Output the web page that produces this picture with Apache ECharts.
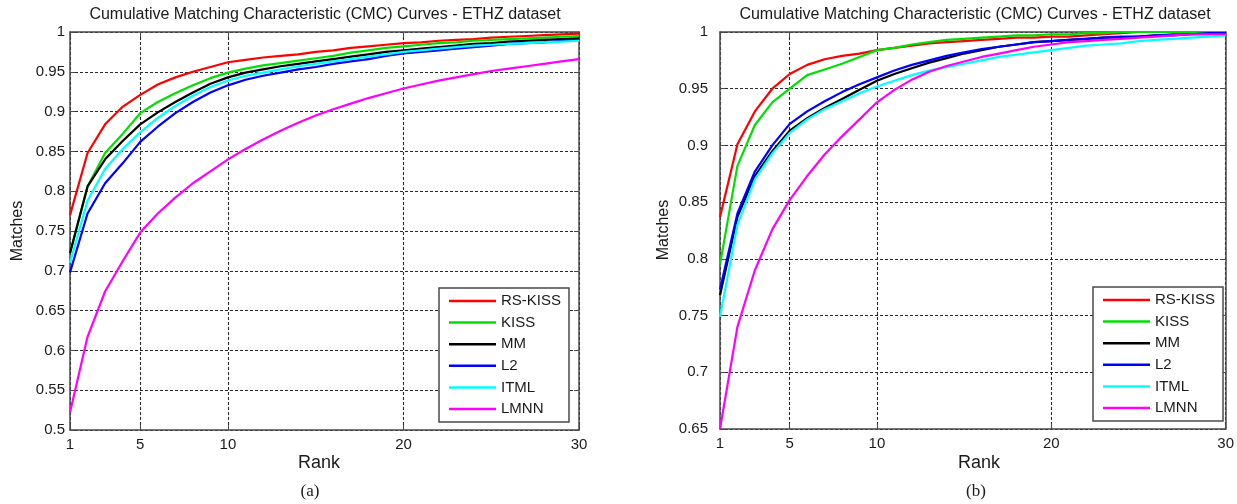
<!DOCTYPE html>
<html>
<head>
<meta charset="utf-8">
<script src="https://cdn.jsdelivr.net/npm/echarts@6/dist/echarts.min.js"></script>
<style>
  html, body { margin: 0; padding: 0; background: #fff; }
  #chart { width: 1237px; height: 504px; }
</style>
</head>
<body>
<div id="chart"></div>
<script>
// CMC curves on the ETHZ dataset, two experiment settings side by side.
const ranks = [1,2,3,4,5,6,7,8,9,10,11,12,13,14,15,16,17,18,19,20,21,22,23,24,25,26,27,28,29,30];
const methods = ['RS-KISS', 'KISS', 'MM', 'L2', 'ITML', 'LMNN'];
const xTicks = [1, 5, 10, 20, 30];

// Panel (a)
const aRsKiss = [0.770,0.848,0.884,0.906,0.921,0.934,0.943,0.950,0.956,0.962,0.965,0.968,0.970,0.972,0.975,0.977,0.980,0.982,0.984,0.986,0.987,0.989,0.990,0.991,0.993,0.994,0.995,0.996,0.997,0.998];
const aKiss   = [0.722,0.806,0.848,0.872,0.898,0.912,0.923,0.933,0.942,0.949,0.954,0.958,0.961,0.964,0.967,0.970,0.974,0.977,0.980,0.982,0.984,0.986,0.987,0.989,0.990,0.991,0.992,0.993,0.994,0.995];
const aMm     = [0.722,0.806,0.840,0.863,0.884,0.899,0.912,0.924,0.935,0.943,0.949,0.953,0.957,0.960,0.963,0.966,0.969,0.972,0.975,0.977,0.979,0.981,0.983,0.985,0.986,0.988,0.989,0.990,0.991,0.992];
const aL2     = [0.698,0.772,0.810,0.835,0.862,0.881,0.898,0.912,0.924,0.933,0.940,0.945,0.949,0.953,0.956,0.960,0.963,0.966,0.970,0.973,0.975,0.977,0.979,0.981,0.983,0.985,0.986,0.987,0.989,0.990];
const aItml   = [0.710,0.788,0.828,0.853,0.874,0.892,0.907,0.920,0.931,0.939,0.945,0.949,0.953,0.957,0.960,0.963,0.966,0.969,0.972,0.975,0.977,0.979,0.981,0.983,0.984,0.985,0.986,0.987,0.988,0.989];
const aLmnn   = [0.522,0.617,0.674,0.712,0.748,0.772,0.792,0.810,0.825,0.840,0.853,0.865,0.876,0.886,0.895,0.903,0.910,0.917,0.923,0.929,0.934,0.939,0.943,0.947,0.951,0.954,0.957,0.960,0.963,0.966];

// Panel (b)
const bRsKiss = [0.837,0.901,0.930,0.950,0.963,0.971,0.976,0.979,0.981,0.984,0.986,0.988,0.990,0.991,0.992,0.993,0.994,0.995,0.995,0.996,0.996,0.997,0.998,0.999,1.000,1.000,1.000,1.000,1.000,1.000];
const bKiss   = [0.795,0.882,0.918,0.938,0.950,0.962,0.967,0.972,0.978,0.984,0.986,0.989,0.991,0.993,0.994,0.995,0.996,0.997,0.997,0.998,0.998,0.999,0.999,1.000,1.000,1.000,1.000,1.000,1.000,1.000];
const bMm     = [0.768,0.837,0.873,0.895,0.913,0.924,0.933,0.941,0.949,0.957,0.963,0.968,0.973,0.977,0.981,0.984,0.987,0.989,0.991,0.992,0.993,0.994,0.995,0.995,0.996,0.997,0.997,0.998,0.998,0.999];
const bL2     = [0.773,0.840,0.877,0.900,0.919,0.930,0.939,0.947,0.954,0.960,0.966,0.971,0.975,0.979,0.982,0.985,0.987,0.989,0.991,0.992,0.993,0.994,0.995,0.996,0.996,0.997,0.998,0.998,0.999,0.999];
const bItml   = [0.749,0.830,0.870,0.893,0.911,0.923,0.932,0.939,0.946,0.952,0.957,0.962,0.966,0.969,0.972,0.975,0.978,0.980,0.982,0.984,0.986,0.988,0.989,0.990,0.992,0.993,0.994,0.995,0.996,0.997];
const bLmnn   = [0.650,0.740,0.790,0.826,0.852,0.873,0.892,0.908,0.923,0.938,0.949,0.958,0.965,0.970,0.974,0.978,0.981,0.984,0.987,0.989,0.991,0.992,0.993,0.994,0.995,0.996,0.997,0.998,0.998,0.998];

const colors = ['#ff0000', '#00e000', '#000000', '#0000ff', '#00ffff', '#ff00ff'];
const panelA = [aRsKiss, aKiss, aMm, aL2, aItml, aLmnn];
const panelB = [bRsKiss, bKiss, bMm, bL2, bItml, bLmnn];

const SANS = '"Liberation Sans", Arial, sans-serif';
const SERIF = '"Liberation Serif", "Times New Roman", serif';
const TEXT = '#1a1a1a';
const FRAME = '#4a4a4a';
const GRIDLINE = { color: '#2a2a2a', width: 1.1, type: [3, 2] };

const titleText = 'Cumulative Matching Characteristic (CMC) Curves - ETHZ dataset';

function pairs(values) {
  return ranks.map((r, i) => [r, values[i]]);
}

function xAxes(gridIndex) {
  const base = {
    type: 'value', gridIndex, min: 1, max: 30,
    axisLine: { show: true, onZero: false, lineStyle: { color: FRAME, width: 1.5 } },
    axisTick: { show: true, inside: true, length: 5, customValues: xTicks, lineStyle: { color: FRAME } }
  };
  return [
    Object.assign({}, base, {
      position: 'bottom',
      axisLabel: { customValues: xTicks, color: TEXT, fontFamily: SANS, fontSize: 15, margin: 7 },
      splitLine: { show: true, lineStyle: GRIDLINE }
    }),
    Object.assign({}, base, {
      position: 'top',
      axisLabel: { show: false },
      splitLine: { show: false }
    })
  ];
}

function yAxes(gridIndex, min, labelMargin) {
  const base = {
    type: 'value', gridIndex, min, max: 1, interval: 0.05,
    axisLine: { show: true, onZero: false, lineStyle: { color: FRAME, width: 1.5 } },
    axisTick: { show: true, inside: true, length: 5, lineStyle: { color: FRAME } }
  };
  return [
    Object.assign({}, base, {
      position: 'left',
      axisLabel: {
        color: TEXT, fontFamily: SANS, fontSize: 15, margin: labelMargin,
        formatter: v => String(+v.toFixed(2))
      },
      splitLine: { show: true, lineStyle: GRIDLINE }
    }),
    Object.assign({}, base, {
      position: 'right',
      axisLabel: { show: false },
      splitLine: { show: false }
    })
  ];
}

function seriesFor(panel, axisIndex) {
  return panel.map((vals, k) => ({
    name: methods[k],
    type: 'line',
    xAxisIndex: axisIndex,
    yAxisIndex: axisIndex,
    data: pairs(vals),
    showSymbol: false,
    symbol: 'none',
    lineStyle: { color: colors[k], width: 2.2 },
    itemStyle: { color: colors[k] },
    z: 2 + k,
    animation: false
  }));
}

function legendAt(left, top) {
  return {
    orient: 'vertical', left, top,
    data: methods,
    icon: 'rect', itemWidth: 47, itemHeight: 2.5, itemGap: 5.6,
    padding: [5, 8, 5, 10],
    backgroundColor: '#fff', borderColor: FRAME, borderWidth: 1.5,
    textStyle: { color: TEXT, fontFamily: SANS, fontSize: 15, lineHeight: 16 },
    selectedMode: false
  };
}

function label(text, x, y, font, size, rotation) {
  return {
    type: 'text', x, y, rotation: rotation || 0, silent: true,
    style: { text, fill: TEXT, font: size + 'px ' + font, align: 'center', verticalAlign: 'middle' }
  };
}

const chart = echarts.init(document.getElementById('chart'), null, { renderer: 'canvas' });
chart.setOption({
  animation: false,
  backgroundColor: '#fff',
  grid: [
    { left: 70, top: 32, width: 509, height: 398 },
    { left: 720, top: 32, width: 508, height: 397 }
  ],
  // axis order: [0] bottom A, [1] top A, [2] bottom B, [3] top B
  xAxis: [].concat(xAxes(0), xAxes(1)),
  yAxis: [].concat(yAxes(0, 0.5, 5), yAxes(1, 0.65, 12)),
  legend: [legendAt(439, 288), legendAt(1093, 287)],
  series: [].concat(seriesFor(panelA, 0), seriesFor(panelB, 2)),
  graphic: [
    label(titleText, 325, 15, SANS, 16),
    label(titleText, 975, 15, SANS, 16),
    label('Rank', 319, 463, SANS, 18),
    label('Rank', 979, 463, SANS, 18),
    label('Matches', 18, 231, SANS, 16, Math.PI / 2),
    label('Matches', 664, 230, SANS, 16, Math.PI / 2),
    label('(a)', 310, 492, SERIF, 17),
    label('(b)', 976, 492, SERIF, 17)
  ]
});
</script>
</body>
</html>
